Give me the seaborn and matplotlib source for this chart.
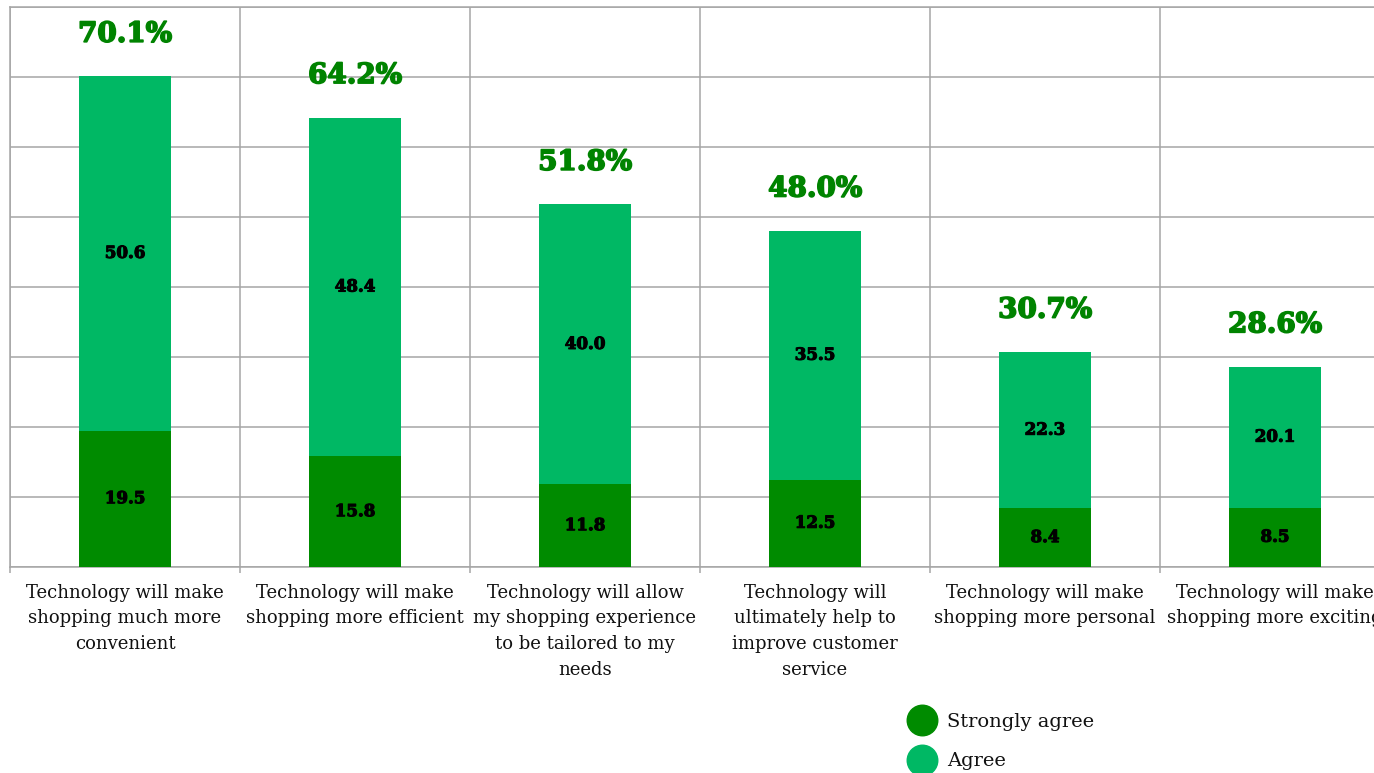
import matplotlib
matplotlib.use("Agg")
import matplotlib.pyplot as plt
import matplotlib.patheffects as pe
import seaborn as sns
import pandas as pd
from matplotlib.lines import Line2D
from matplotlib.ticker import FixedLocator

categories = [
    "Technology will make\nshopping much more\nconvenient",
    "Technology will make\nshopping more efficient",
    "Technology will allow\nmy shopping experience\nto be tailored to my\nneeds",
    "Technology will\nultimately help to\nimprove customer\nservice",
    "Technology will make\nshopping more personal",
    "Technology will make\nshopping more exciting",
]
strongly_agree = [19.5, 15.8, 11.8, 12.5, 8.4, 8.5]
agree = [50.6, 48.4, 40.0, 35.5, 22.3, 20.1]
totals = [70.1, 64.2, 51.8, 48.0, 30.7, 28.6]

DARK = "#008B00"
LIGHT = "#00B864"
LABEL_GREEN = "#008300"
GRID = "#A6A6A6"
SERIF = ["DejaVu Serif"]

df = pd.DataFrame({
    "category": categories,
    "strongly": strongly_agree,
    "agree": agree,
    "total": totals,
})

sns.set_theme(style="white")
plt.rcParams["font.family"] = SERIF

fig = plt.figure(figsize=(13.74, 7.73), dpi=100)
ax = fig.add_axes([10 / 1374, (773 - 567) / 773, 1380 / 1374, 560 / 773])

# stacked bars: full height in light green, strongly-agree share on top in dark green
sns.barplot(data=df, x="category", y="total", color=LIGHT, width=0.4,
            saturation=1, linewidth=0, ax=ax, zorder=3)
sns.barplot(data=df, x="category", y="strongly", color=DARK, width=0.4,
            saturation=1, linewidth=0, ax=ax, zorder=4)

ax.set_xlim(-0.5, 5.5)
ax.set_ylim(0, 80)
ax.set_xlabel("")
ax.set_ylabel("")
ax.set_yticks(range(0, 81, 10))
ax.set_yticklabels([])
ax.tick_params(axis="y", length=0)

ax.xaxis.set_minor_locator(FixedLocator([i - 0.5 for i in range(7)]))
ax.tick_params(axis="x", which="major", length=0, pad=12, labelsize=13)
ax.tick_params(axis="x", which="minor", length=4, width=1.1, color=GRID,
               direction="out", bottom=True)
for lbl in ax.get_xticklabels():
    lbl.set_linespacing(1.55)
    lbl.set_color("#111111")

ax.grid(True, axis="y", which="major", color=GRID, linewidth=1.1, zorder=0)
ax.grid(True, axis="x", which="minor", color=GRID, linewidth=1.1, zorder=0)
ax.grid(False, axis="x", which="major")
for side in ["left", "right", "top", "bottom"]:
    ax.spines[side].set_color(GRID)
    ax.spines[side].set_linewidth(1.1)
    ax.spines[side].set_visible(True)

heavy_black = [pe.withStroke(linewidth=0.8, foreground="black")]
heavy_green = [pe.withStroke(linewidth=1.2, foreground=LABEL_GREEN)]
for i, (s, a, t) in enumerate(zip(strongly_agree, agree, totals)):
    ax.text(i, s / 2, f"{s:.1f}", ha="center", va="center", fontsize=12,
            fontweight="bold", color="black", zorder=5, path_effects=heavy_black)
    ax.text(i, s + a / 2, f"{a:.1f}", ha="center", va="center", fontsize=12,
            fontweight="bold", color="black", zorder=5, path_effects=heavy_black)
    ax.text(i, t + 6, f"{t:.1f}%", ha="center", va="center", fontsize=20,
            fontweight="bold", color=LABEL_GREEN, zorder=5, path_effects=heavy_green)

handles = [
    Line2D([], [], marker="o", linestyle="none", markersize=22,
           markerfacecolor=DARK, markeredgecolor=DARK),
    Line2D([], [], marker="o", linestyle="none", markersize=22,
           markerfacecolor=LIGHT, markeredgecolor=LIGHT),
]
leg = fig.legend(handles, ["Strongly agree", "Agree"], loc="upper left",
                 bbox_to_anchor=(910 / 1374, 1 - 713 / 773), frameon=False,
                 fontsize=14, handlelength=1.2, handletextpad=0.7,
                 labelspacing=1.1, borderaxespad=0, borderpad=0)
for txt in leg.get_texts():
    txt.set_color("#111111")

fig.savefig("out.png", dpi=100)
